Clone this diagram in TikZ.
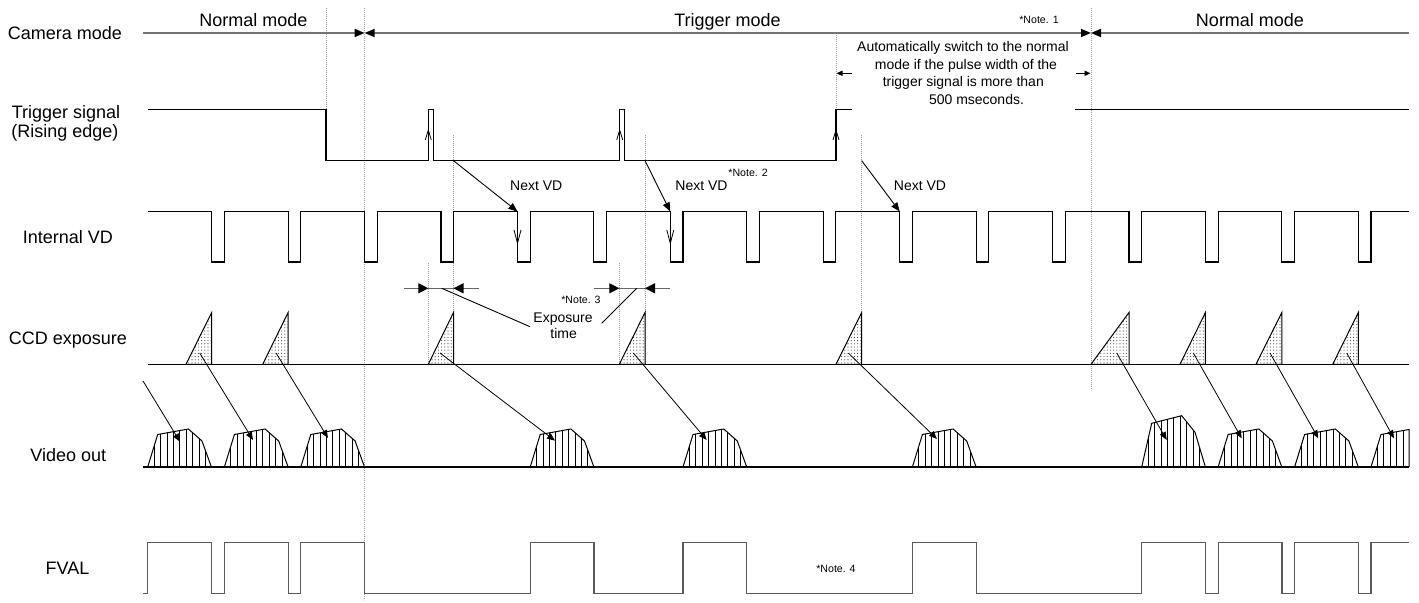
\documentclass[tikz,border=0pt]{standalone}
\usepackage{fontspec}
\setmainfont{Liberation Sans}
\usetikzlibrary{arrows.meta,patterns.meta}
\begin{document}
\begin{tikzpicture}[x=0.5pt,y=-0.5pt,
  lbl/.style={font=\fontsize{9}{10.8}\selectfont, inner sep=0pt, anchor=base},
  smalltxt/.style={font=\fontsize{7}{8.4}\selectfont, inner sep=0pt, anchor=base},
  notetxt/.style={font=\fontsize{5.3}{6.4}\selectfont, inner sep=0pt, anchor=base},
  sig/.style={line width=0.55pt, draw=black},
  modeline/.style={line width=0.8pt, draw=black!55},
  fval/.style={line width=0.6pt, draw=black!65},
  guide/.style={line width=0.35pt, draw=black!40, dash pattern=on 0.4pt off 0.6pt},
  ptr/.style={line width=0.45pt, -{Triangle[length=4.5pt,width=3.6pt]}},
  hptr/.style={line width=0.4pt, -{Triangle[length=4pt,width=3.2pt]}},
  edgemark/.style={line width=0.4pt},
  hatch/.style={line width=0.4pt},
  explines/.style={line width=0.55pt, draw=black!60},
  exptip/.style={line width=0.55pt, draw=black!60, -{Triangle[length=5pt,width=5pt,color=black]}},
]
\useasboundingbox (0,0) rectangle (1419,603);

% dotted guide lines
\foreach \x/\ya/\yb in {326/8/109.3, 364.6/8/600, 1091/8/390, 836/33/109.3,
  453.5/135/364.3, 645/135/364.3, 861.7/135/364.3, 428.3/263/364.3, 619.3/263/364.3}
  \draw[guide] (\x,\ya) -- (\x,\yb);

% ---------- Camera mode ----------
\node[lbl] (camlbl) at (65,39.3) {Camera mode};
\node[lbl] (nm1) at (253.5,26.7) {Normal mode};
\node[lbl] (trm) at (727.5,26.7) {Trigger mode};
\node[lbl] (nm2) at (1250,26.7) {Normal mode};
\node[notetxt] (n1) at (1039,23.3) {*Note. 1};
\coordinate (cm0) at (143,33);
\coordinate (cm1) at (364.6,33);
\coordinate (cm2) at (1091,33);
\coordinate (cm3) at (1409,33);
\draw[modeline, -{Triangle[length=5pt,width=4pt,color=black]}] (cm0) -- (cm1);
\draw[modeline, {Triangle[length=5pt,width=4pt,color=black]}-{Triangle[length=5pt,width=4pt,color=black]}] (cm1) -- (cm2);
\draw[modeline, {Triangle[length=5pt,width=4pt,color=black]}-] (cm2) -- (cm3);

% auto switch note
\node[smalltxt] (a1) at (963,51.7) {Automatically switch to the normal};
\node[smalltxt] (a2) at (966,69.3) {mode if the pulse width of the};
\node[smalltxt] (a3) at (963.3,87) {trigger signal is more than};
\node[smalltxt] (a4) at (976.5,104.3) {500 mseconds.};
\draw[line width=0.5pt, -{Triangle[length=3pt,width=2.6pt]}] (852,73.3) -- (836.5,73.3);
\draw[line width=0.5pt, -{Triangle[length=3pt,width=2.6pt]}] (1076,73.3) -- (1090.5,73.3);

% ---------- Trigger signal ----------
\node[lbl] (trg1) at (66,118.3) {Trigger signal};
\node[lbl] (trg2) at (65,137.3) {(Rising edge)};
\draw[sig] (147.7,109.3) -- (326,109.3) -- (326,160.7) -- (428.3,160.7) -- (428.3,109.3)
  -- (433.3,109.3) -- (433.3,160.7) -- (619.7,160.7) -- (619.7,109.3) -- (624.3,109.3)
  -- (624.3,160.7) -- (836,160.7) -- (836,109.3) -- (852,109.3);
\draw[sig] (1075,109.3) -- (1409,109.3);
\foreach \x in {428.3,619.7,836}
  \draw[edgemark] (\x-3,140) -- (\x,130) -- (\x+3,140);

% Next VD pointers
\node[smalltxt] (nv1) at (536.3,190.7) {Next VD};
\node[smalltxt] (nv2) at (701.5,190.7) {Next VD};
\node[smalltxt] (nv3) at (920,190.7) {Next VD};
\node[notetxt, anchor=base west] (n2) at (728,176.7) {*Note. 2};
\draw[ptr] (453.5,160.7) -- (517.5,211.5);
\draw[ptr] (645,160.7) -- (670.3,211.5);
\draw[ptr] (861.7,160.7) -- (899.7,211.5);

% ---------- Internal VD ----------
\node[lbl] (vdlbl) at (67.8,243.3) {Internal VD};
\draw[sig] (147.7,211.5) \foreach \k in {0,...,15} {
   -- (211.7+76.44*\k,211.5) -- (211.7+76.44*\k,262) -- (224.4+76.44*\k,262) -- (224.4+76.44*\k,211.5)}
   -- (1409,211.5);
\foreach \x in {517.5,670.3}
  \draw[edgemark] (\x-3.5,230) -- (\x,243.3) -- (\x+3.5,230);

% ---------- Exposure time ----------
\draw[explines] (428.3,288.3) -- (453.5,288.3);
\draw[exptip] (404,288.3) -- (428.3,288.3);
\draw[exptip] (479,288.3) -- (453.5,288.3);
\draw[explines] (619.3,288.3) -- (645,288.3);
\draw[exptip] (594,288.3) -- (619.3,288.3);
\draw[exptip] (670,288.3) -- (645,288.3);
\node[notetxt] (n3) at (581,304) {*Note. 3};
\node[smalltxt] (ex1) at (563,322.3) {Exposure};
\node[smalltxt] (ex2) at (563.7,338.3) {time};
\draw[line width=0.45pt] (441.7,288.3) -- (530,326.7);
\draw[line width=0.45pt] (636.7,288.3) -- (601.7,323.3);

% ---------- CCD exposure ----------
\node[lbl] (ccdlbl) at (68,345) {CCD exposure};
\draw[sig] (147.7,364.3) -- (1409,364.3);
\foreach \l/\r in {186/211.7, 262.7/288.1, 428.3/453.5, 619.3/645, 836/861.7,
   1091/1129, 1180/1205.4, 1256/1281.9, 1332.7/1358.3}
  \draw[line width=0.5pt, pattern={Dots[distance=1.6pt,radius=0.28pt]}, pattern color=black!75]
    (\l,364.3) -- (\r,312.5) -- (\r,364.3) -- cycle;

% ---------- Video out ----------
\node[lbl] (vidlbl) at (68.3,461.7) {Video out};
\draw[sig] (143,467) -- (1409,467);
\foreach \L in {147.7, 224.4, 300.8, 530.2, 683.0, 912.4, 1218.1, 1294.6} {
  \begin{scope}
    \clip (\L,467) -- (\L+10,434.5) -- (\L+40.7,429) -- (\L+54.3,441) -- (\L+63.7,467) -- cycle;
    \foreach \i in {1,...,9} \draw[hatch] (\L+6.4*\i,468) -- (\L+6.4*\i,420);
  \end{scope}
  \draw[line width=0.5pt] (\L,467) -- (\L+10,434.5) -- (\L+40.7,429) -- (\L+54.3,441) -- (\L+63.7,467);
}
% taller hump
\begin{scope}
  \clip (1141.7,467) -- (1151.7,423.3) -- (1181.7,415.7) -- (1195,432.3) -- (1205.4,467) -- cycle;
  \foreach \i in {1,...,9} \draw[hatch] (1141.7+6.4*\i,468) -- (1141.7+6.4*\i,410);
\end{scope}
\draw[line width=0.5pt] (1141.7,467) -- (1151.7,423.3) -- (1181.7,415.7) -- (1195,432.3) -- (1205.4,467);
% clipped last hump
\begin{scope}
  \clip (1371,467) -- (1381,434.5) -- (1409,429.5) -- (1409,467) -- cycle;
  \foreach \i in {1,...,5} \draw[hatch] (1371+6.4*\i,468) -- (1371+6.4*\i,420);
\end{scope}
\draw[line width=0.5pt] (1371,467) -- (1381,434.5) -- (1409,429.5) -- (1409,467);

% pointers from exposure to video
\draw[hptr] (143,381) -- (180,441.7);
\foreach \sx/\tx/\ty in {199.7/253/440, 276.1/328/438, 440/555/440.7, 633.3/706.7/440,
   848.3/937/439, 1116.7/1166.7/440, 1193.3/1241.7/438.3, 1270/1318.3/438.3, 1346.7/1394/438.3}
  \draw[hptr] (\sx,353) -- (\tx,\ty);

% ---------- FVAL ----------
\node[lbl] (fvlbl) at (67.5,574.3) {FVAL};
\node[notetxt] (n4) at (836,572.7) {*Note. 4};
\draw[fval] (143.3,593.3) \foreach \a/\b in {147.7/211.7, 224.4/288.1, 300.8/364.6, 530.2/593.9,
   683.0/746.8, 912.4/976.1, 1141.7/1205.4, 1218.1/1281.9, 1294.6/1358.3}
   { -- (\a,593.3) -- (\a,542.7) -- (\b,542.7) -- (\b,593.3) }
   -- (1371,593.3) -- (1371,542.7) -- (1409,542.7);
\end{tikzpicture}
\end{document}
